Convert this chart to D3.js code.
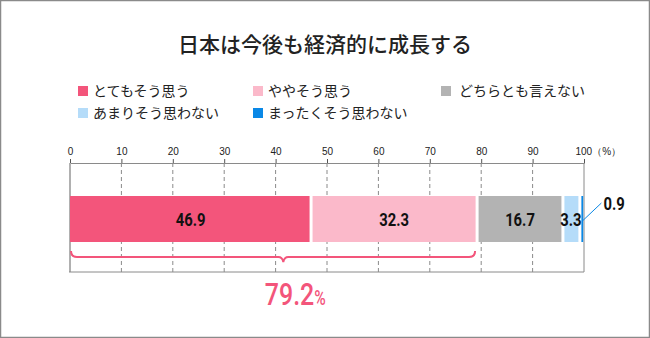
<!DOCTYPE html>
<html><head><meta charset="utf-8">
<script src="https://cdn.jsdelivr.net/npm/d3@7"></script>
<style>
body{margin:0;background:#fff;}
svg{display:block;}
.jp{font-family:"Noto Sans CJK JP","Noto Sans",sans-serif;}
.num{font-family:"Roboto","Liberation Sans",sans-serif;}
</style></head>
<body>
<script>
const title = "日本は今後も経済的に成長する";
const categories = ["とてもそう思う","ややそう思う","どちらとも言えない","あまりそう思わない","まったくそう思わない"];
const values = [46.9, 32.3, 16.7, 3.3, 0.9];
const colors = ["#f3557b","#fbb9ca","#b3b3b3","#b5dcf9","#0a88e6"];
const tickValues = [0,10,20,30,40,50,60,70,80,90,100];
const totalLabel = "79.2";

const W=650,H=338;
const svg=d3.select("body").append("svg").attr("width",W).attr("height",H);
svg.append("rect").attr("x",0.5).attr("y",0.5).attr("width",W-1).attr("height",H-1)
  .attr("fill","#fff").attr("stroke","#8a8a8a").attr("stroke-width",1.5);

svg.append("text").attr("class","jp").attr("x",W/2).attr("y",52).attr("text-anchor","middle")
  .attr("font-size",21).attr("font-weight",500).attr("fill","#222").text(title);

// legend
const legPos=[[78,91],[253,91],[441,91],[78,113],[253,113]];
categories.forEach((c,i)=>{
  const [lx,ly]=legPos[i];
  svg.append("rect").attr("x",lx).attr("y",ly-5).attr("width",10).attr("height",10).attr("fill",colors[i]);
  svg.append("text").attr("class","jp").attr("x",lx+(i===2?18:15)).attr("y",ly+5).attr("font-size",14)
    .attr("fill","#222").text(c);
});

const x=d3.scaleLinear().domain([0,100]).range([70,584]);
const yTop=163,yBot=272,barY=196,barH=46;

// gridlines
svg.append("g").selectAll("line").data(tickValues.filter(d=>d>0&&d<100)).join("line")
  .attr("x1",d=>x(d)).attr("x2",d=>x(d)).attr("y1",yTop).attr("y2",yBot)
  .attr("stroke","#8a8a8a").attr("stroke-dasharray","4,3").attr("stroke-width",1);

// axis
const axis=d3.axisTop(x).tickValues(tickValues).tickSize(4).tickFormat(d=>d===100?"100（%）":d);
const ag=svg.append("g").attr("transform",`translate(0,${yTop})`).call(axis);
ag.select(".domain").attr("stroke","#8a8a8a");
ag.selectAll(".tick line").attr("stroke","#555");
ag.selectAll(".tick text").attr("font-family","Liberation Sans, Arial, sans-serif").attr("font-size",10).attr("fill","#222").attr("dy","-0.1em")
  .attr("text-anchor",d=>d===100?"start":"middle").attr("dx",d=>d===100?-9:0);

svg.append("line").attr("x1",x(0)).attr("x2",x(0)).attr("y1",yTop).attr("y2",yBot).attr("stroke","#b0b0b0").attr("stroke-width",2);
svg.append("line").attr("x1",x(100)).attr("x2",x(100)).attr("y1",yTop).attr("y2",yBot).attr("stroke","#8a8a8a");
svg.append("line").attr("x1",x(0)-1).attr("x2",x(100)).attr("y1",yBot).attr("y2",yBot).attr("stroke","#8a8a8a");

// bars
let acc=0;
const segs=values.map((v,i)=>{const s={v,i,x0:acc,x1:acc+v};acc+=v;return s;});
svg.append("g").selectAll("rect").data(segs).join("rect")
  .attr("x",d=>x(d.x0)+(d.i?1.5:0)).attr("width",d=>Math.max(1.8,x(d.x1)-x(d.x0)-(d.i?3:1.5)))
  .attr("y",barY).attr("height",barH).attr("fill",d=>colors[d.i]);

function condText(px,py,str,size,weight,fill,anchor,sx){
  const g=svg.append("g").attr("transform",`translate(${px},${py}) scale(${sx},1)`);
  return g.append("text").attr("class","num").attr("text-anchor",anchor).attr("font-size",size)
    .attr("font-weight",weight).attr("fill",fill).text(str);
}

segs.forEach(d=>{
  if(d.v<2){
    const bx=x(d.x0)+2.5;
    svg.append("line").attr("x1",bx).attr("y1",barY+25).attr("x2",bx+19).attr("y2",barY+7).attr("stroke",colors[d.i]).attr("stroke-width",1);
    condText(bx+21,barY+13.5,d.v,18.5,"bold","#111","start",0.8);
  } else {
    condText((x(d.x0)+x(d.x1))/2+(d.v<5?-0.5:0),barY+barH/2+6.5,d.v.toFixed(1),18.5,"bold","#111","middle",0.8);
  }
});

// brace
const bx0=x(0)+1,bx1=x(segs[1].x1)-2,bm=x(41.5),by=257;
const p=d3.path();
p.moveTo(bx0,by-6);p.quadraticCurveTo(bx0,by,bx0+6,by);
p.lineTo(bm-5,by);p.quadraticCurveTo(bm-1,by,bm,by+5);p.quadraticCurveTo(bm+1,by,bm+5,by);
p.lineTo(bx1-6,by);p.quadraticCurveTo(bx1,by,bx1,by-6);
svg.append("path").attr("d",p.toString()).attr("fill","none").attr("stroke","#f3557b").attr("stroke-width",2);

const t=condText(bm+12,305,"",32,500,"#f3557b","middle",0.78);
t.append("tspan").text(totalLabel);
t.append("tspan").attr("font-size",20).text("%");
</script>
</body></html>
